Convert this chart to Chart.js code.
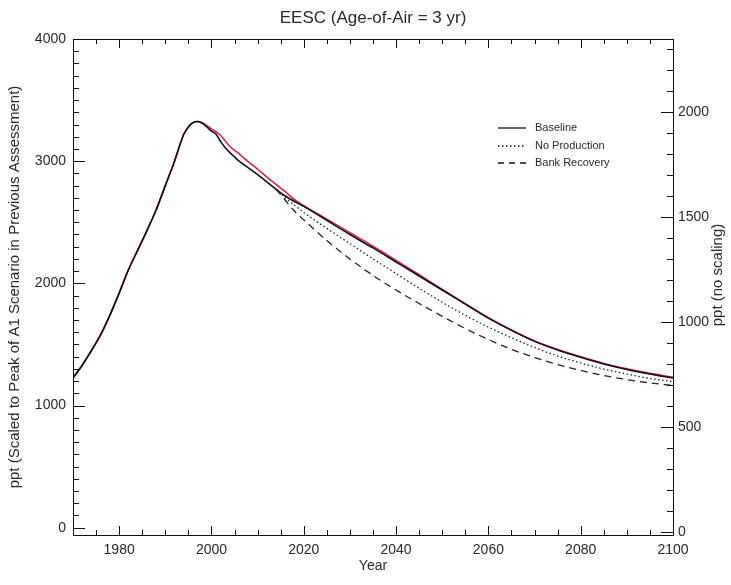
<!DOCTYPE html>
<html>
<head>
<meta charset="utf-8">
<script src="https://cdn.jsdelivr.net/npm/chart.js@4/dist/chart.umd.min.js"></script>
<style>
html,body{margin:0;padding:0;background:#fff;}
#wrap{width:731px;height:585px;}
</style>
</head>
<body>
<div id="wrap"><canvas id="c" width="731" height="585"></canvas></div>
<script>
// ---- data ----
const baselineYears = [1970,1972,1974,1976,1978,1980,1982,1984,1986,1988,1990,1992,1994,1995,1996,1997,1998,1999,2000,2001,2002,2003,2004,2005,2006,2008,2010,2012,2014,2016,2018,2020,2025,2030,2035,2040,2045,2050,2055,2060,2065,2070,2075,2080,2085,2090,2095,2100];
const baselineValues = [1225,1330,1450,1580,1740,1920,2110,2270,2430,2600,2800,3000,3220,3280,3315,3325,3310,3280,3245,3220,3160,3110,3070,3035,3000,2945,2890,2830,2770,2715,2670,2630,2515,2400,2290,2175,2060,1945,1830,1715,1615,1525,1455,1395,1340,1295,1258,1225];

const previousYears = [1970,1972,1974,1976,1978,1980,1982,1984,1986,1988,1990,1992,1994,1995,1996,1997,1998,2000,2002,2004,2006,2008,2010,2012,2014,2016,2018,2020,2025,2030,2035,2040,2045,2050,2055,2060,2065,2070,2075,2080,2085,2090,2095,2100];
const previousValues = [1225,1330,1450,1580,1740,1920,2110,2270,2430,2600,2800,3000,3220,3280,3315,3325,3315,3265,3210,3120,3060,2995,2935,2870,2810,2750,2685,2635,2525,2415,2305,2188,2070,1950,1833,1718,1618,1528,1458,1398,1344,1300,1263,1232];

const noProductionYears = [2014,2016,2018,2020,2025,2030,2035,2040,2045,2050,2055,2060,2065,2070,2075,2080,2085,2090,2095,2100];
const noProductionValues = [2770,2700,2640,2580,2450,2325,2200,2080,1960,1845,1738,1642,1555,1475,1405,1348,1298,1257,1222,1195];

const bankRecoveryYears = [2014,2016,2018,2020,2025,2030,2035,2040,2045,2050,2055,2060,2065,2070,2075,2080,2085,2090,2095,2100];
const bankRecoveryValues = [2770,2680,2590,2520,2350,2200,2065,1945,1835,1730,1630,1540,1460,1393,1335,1287,1246,1212,1185,1165];

const xTickLabels = [1980,2000,2020,2040,2060,2080,2100];
const leftTickLabels = [0,1000,2000,3000,4000];
const rightTickLabels = [0,500,1000,1500,2000];

const legendLabels = ["Baseline","No Production","Bank Recovery"];
const chartTitle = "EESC (Age-of-Air = 3 yr)";
const xTitle = "Year";
const leftTitle = "ppt (Scaled to Peak of A1 Scenario in Previous Assessment)";
const rightTitle = "ppt (no scaling)";

// ---- build ----
const FONT = "'Liberation Sans', Arial, Helvetica, sans-serif";
const TXT = "#2a2a2a";
function pts(xs, ys){ return xs.map((x,i)=>({x:x, y:ys[i]})); }

const decor = {
  id:'decor',
  afterDraw(chart){
    const ctx = chart.ctx, a = chart.chartArea;
    const sx = chart.scales.x, sy = chart.scales.y, sr = chart.scales.y2;
    ctx.save();
    ctx.strokeStyle = '#111';
    ctx.lineWidth = 1;
    ctx.strokeRect(Math.round(a.left)+0.5, Math.round(a.top)+0.5, Math.round(a.right-a.left), Math.round(a.bottom-a.top));
    ctx.beginPath();
    for(let yr=1975; yr<2100; yr+=5){
      const px = Math.round(sx.getPixelForValue(yr))+0.5;
      const len = (yr%20===0) ? 9 : 5;
      ctx.moveTo(px, a.bottom); ctx.lineTo(px, a.bottom-len);
      ctx.moveTo(px, a.top); ctx.lineTo(px, a.top+len);
    }
    for(let v=0; v<4000; v+=100){
      const py = Math.round(sy.getPixelForValue(v))+0.5;
      const len = (v%1000===0) ? 12 : 6;
      ctx.moveTo(a.left, py); ctx.lineTo(a.left+len, py);
    }
    for(let v=0; v<=2300; v+=100){
      const py = Math.round(sr.getPixelForValue(v))+0.5;
      const len = (v%500===0) ? 12 : 6;
      ctx.moveTo(a.right, py); ctx.lineTo(a.right-len, py);
    }
    ctx.stroke();

    ctx.fillStyle = TXT;
    ctx.textAlign = 'center';
    ctx.textBaseline = 'middle';
    ctx.font = "17px " + FONT;
    ctx.fillText(chartTitle, (a.left+a.right)/2, 18);
    ctx.font = "14px " + FONT;
    ctx.fillText(xTitle, (a.left+a.right)/2, 566);
    ctx.save();
    ctx.translate(15, 287); ctx.rotate(-Math.PI/2);
    ctx.font = "15px " + FONT;
    ctx.fillText(leftTitle, 0, 0);
    ctx.restore();
    ctx.save();
    ctx.translate(718, 275); ctx.rotate(-Math.PI/2);
    ctx.font = "15px " + FONT;
    ctx.fillText(rightTitle, 0, 0);
    ctx.restore();

    const ly = [128,146,163];
    const dashes = [[],[1.5,2.5],[6,5]];
    ctx.font = "11px " + FONT;
    ctx.textAlign = 'left';
    for(let i=0;i<3;i++){
      ctx.beginPath();
      ctx.setLineDash(dashes[i]);
      ctx.lineWidth = 1.3;
      ctx.strokeStyle = '#111';
      ctx.moveTo(498, ly[i]); ctx.lineTo(526, ly[i]);
      ctx.stroke();
      ctx.setLineDash([]);
      ctx.fillText(legendLabels[i], 535, ly[i]);
    }
    ctx.restore();
  }
};

const tickFont = {family: FONT, size: 14};

new Chart(document.getElementById('c'), {
  type: 'line',
  data: {
    datasets: [
      {label:'Bank Recovery', data: pts(bankRecoveryYears, bankRecoveryValues), borderColor:'#222', borderWidth:1.3, borderDash:[7,5], yAxisID:'y'},
      {label:'No Production', data: pts(noProductionYears, noProductionValues), borderColor:'#222', borderWidth:1.3, borderDash:[1.5,2.5], yAxisID:'y'},
      {label:'Baseline', data: pts(baselineYears, baselineValues), borderColor:'#111', borderWidth:1.6, yAxisID:'y'},
      {label:'Previous', data: pts(previousYears, previousValues), borderColor:'#d81f4e', borderWidth:1.6, yAxisID:'y'}
    ]
  },
  options: {
    responsive: false,
    animation: false,
    devicePixelRatio: 1,
    layout: {padding: {top: 39, left: 0, right: 0, bottom: 0}},
    elements: {point: {radius: 0}, line: {cubicInterpolationMode: 'monotone', fill: false}},
    plugins: {legend: {display: false}, title: {display: false}, tooltip: {enabled: false}},
    scales: {
      x: {
        type: 'linear', position: 'bottom', min: 1970, max: 2100,
        grid: {display: false, drawTicks: false}, border: {display: false},
        ticks: {font: tickFont, color: TXT, padding: 7, maxRotation: 0, callback: v => String(v)},
        afterBuildTicks: s => { s.ticks = xTickLabels.map(v => ({value: v})); },
        afterFit: s => { s.height = 50; }
      },
      y: {
        type: 'linear', position: 'left', min: -60, max: 4000,
        grid: {display: false, drawTicks: false}, border: {display: false},
        ticks: {font: tickFont, color: TXT, padding: 7, callback: v => String(v)},
        afterBuildTicks: s => { s.ticks = leftTickLabels.map(v => ({value: v})); },
        afterFit: s => { s.width = 73; }
      },
      y2: {
        type: 'linear', position: 'right', min: -14, max: 2348,
        grid: {display: false, drawTicks: false}, border: {display: false},
        ticks: {font: tickFont, color: TXT, padding: 5, callback: v => String(v)},
        afterBuildTicks: s => { s.ticks = rightTickLabels.map(v => ({value: v})); },
        afterFit: s => { s.width = 58; }
      }
    }
  },
  plugins: [decor]
});
</script>
</body>
</html>
